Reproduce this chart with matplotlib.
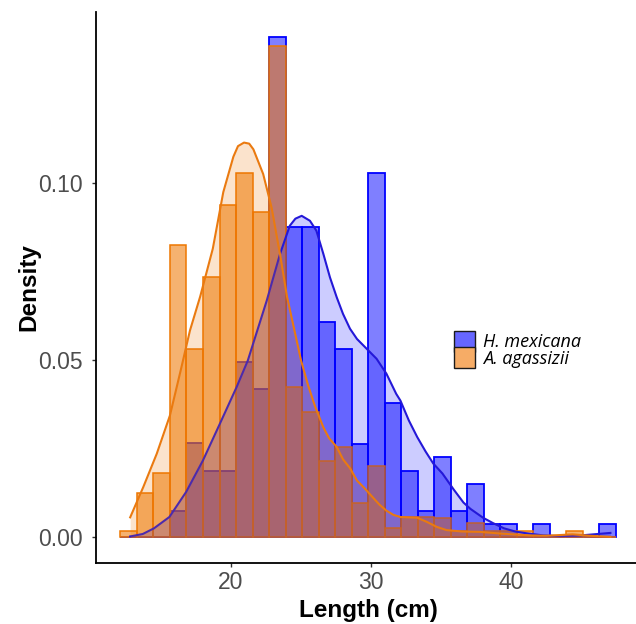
import numpy as np
import matplotlib
matplotlib.use('Agg')
import matplotlib.pyplot as plt
from matplotlib.patches import Patch

# histogram bins (Length, cm)
bin_start = 12.1
bin_width = 1.18
n_bins = 30

# density per bin
mexicana_density = [0.0, 0.0, 0.0, 0.0074, 0.0265, 0.0188, 0.0188, 0.0494, 0.0420, 0.1413,
                    0.0877, 0.0877, 0.0607, 0.0532, 0.0264, 0.1028, 0.0379, 0.0188, 0.0075, 0.0226,
                    0.0075, 0.0150, 0.0037, 0.0037, 0.0, 0.0037, 0.0, 0.0, 0.0, 0.0037]
agassizii_density = [0.0017, 0.0126, 0.0181, 0.0826, 0.0532, 0.0734, 0.0938, 0.1028, 0.0919, 0.1387,
                     0.0424, 0.0353, 0.0215, 0.0255, 0.0096, 0.0200, 0.0025, 0.0057, 0.0057, 0.0054,
                     0.0018, 0.0040, 0.0018, 0.0018, 0.0018, 0.0, 0.0, 0.0018, 0.0, 0.0]

# smoothed density curves
mexicana_kde_x = [12.8, 13.7, 14.5, 15.6, 16.8, 18.0, 19.2, 20.4, 21.2, 22.55, 23.5, 24.2, 24.6,
                  25.05, 25.64, 26.1, 26.6, 27.07, 27.55, 28.0, 28.5, 29.0, 29.7, 30.4, 31.1, 31.8,
                  32.1, 32.7, 33.3, 33.9, 34.45, 35.1, 35.9, 36.6, 37.1, 38.0, 38.7, 39.5, 40.3,
                  41.1, 42.3, 43.5, 44.7, 45.9, 47.1]
mexicana_kde_y = [0.0002, 0.0009, 0.0025, 0.0057, 0.0128, 0.0217, 0.0320, 0.0424, 0.0499, 0.0668,
                  0.0800, 0.0880, 0.0900, 0.0908, 0.0894, 0.0866, 0.0800, 0.0734, 0.0678, 0.0631,
                  0.0589, 0.0560, 0.0532, 0.0504, 0.0462, 0.0405, 0.0386, 0.0330, 0.0283, 0.0242,
                  0.0208, 0.0180, 0.0135, 0.0098, 0.0080, 0.0055, 0.0040, 0.0025, 0.0016, 0.0011,
                  0.0005, 0.0003, 0.0004, 0.0008, 0.0012]
agassizii_kde_x = [12.8, 13.74, 14.7, 15.64, 16.4, 17.07, 17.8, 18.7, 19.45, 20.17, 20.5, 20.93,
                   21.3, 21.6, 22.3, 22.9, 23.5, 24.0, 24.5, 25.0, 25.5, 26.0, 26.6, 27.0, 27.55,
                   28.0, 28.5, 29.0, 29.5, 30.0, 30.6, 31.1, 31.6, 32.1, 32.7, 33.3, 34.0, 34.7,
                   35.4, 36.5, 37.8, 39.0, 40.1, 41.3, 42.5, 43.5, 44.4, 45.6, 47.1]
agassizii_kde_y = [0.0056, 0.0142, 0.0236, 0.0344, 0.0470, 0.0584, 0.0680, 0.0815, 0.0975, 0.1075,
                   0.1105, 0.1115, 0.1112, 0.1096, 0.1026, 0.0931, 0.0800, 0.0680, 0.0590, 0.0500,
                   0.0430, 0.0370, 0.0310, 0.0280, 0.0255, 0.0220, 0.0195, 0.0160, 0.0140, 0.0118,
                   0.0092, 0.0075, 0.0063, 0.0057, 0.0056, 0.0055, 0.0043, 0.0029, 0.0020, 0.0016,
                   0.0015, 0.0011, 0.0008, 0.0005, 0.0004, 0.0006, 0.0008, 0.0004, 0.0001]

species = ['H. mexicana', 'A. agassizii']
BLUE = '#0000FF'
ORANGE = '#EE7600'

edges = bin_start + bin_width * np.arange(n_bins + 1)

fig = plt.figure(figsize=(6.36, 6.24), dpi=100)
ax = fig.add_axes([95.6 / 636, 1 - 563 / 624, (640.8 - 95.6) / 636, (563 - 12) / 624])

ax.bar(edges[:-1], mexicana_density, width=bin_width, align='edge',
       facecolor=(0, 0, 1, 0.5), edgecolor=BLUE, linewidth=1.3, zorder=2)
ax.bar(edges[:-1], agassizii_density, width=bin_width, align='edge',
       facecolor=(0.933, 0.463, 0, 0.56), edgecolor=ORANGE, linewidth=1.1, zorder=3)

ax.fill_between(mexicana_kde_x, 0, mexicana_kde_y, color=BLUE, alpha=0.2, linewidth=0, zorder=4)
ax.plot(mexicana_kde_x, mexicana_kde_y, color='#2418D8', lw=1.5, zorder=5)
ax.fill_between(agassizii_kde_x, 0, agassizii_kde_y, color=ORANGE, alpha=0.2, linewidth=0, zorder=6)
ax.plot(agassizii_kde_x, agassizii_kde_y, color='#EA7A10', lw=1.5, zorder=7)

ax.set_xlim(10.33, 49.27)
ax.set_ylim(-0.0073, 0.1484)
ax.set_xticks([20, 30, 40])
ax.set_yticks([0.0, 0.05, 0.10])
ax.set_yticklabels(['0.00', '0.05', '0.10'])

for s in ['top', 'right']:
    ax.spines[s].set_visible(False)
for s in ['left', 'bottom']:
    ax.spines[s].set_linewidth(1.3)
    ax.spines[s].set_color('black')

ax.tick_params(direction='out', length=3, width=1, color='#333333', pad=3,
               labelsize=16.5, labelcolor='#4D4D4D')
ax.tick_params(axis='y', pad=6)
for lab in ax.get_xticklabels() + ax.get_yticklabels():
    lab.set_family('Liberation Sans')

ax.set_xlabel('Length (cm)', fontsize=17.5, fontweight='bold', family='Liberation Sans', labelpad=3)
ax.set_ylabel('Density', fontsize=17.5, fontweight='bold', family='Liberation Sans')
ax.yaxis.set_label_coords(-0.102, 0.5)

handles = [Patch(facecolor='#6666FF', edgecolor='#1A1A1A', linewidth=1),
           Patch(facecolor='#F6AC66', edgecolor='#1A1A1A', linewidth=1)]
fig.legend(handles, species, loc='upper left', bbox_to_anchor=(454 / 636, 1 - 331 / 624),
           frameon=False, borderpad=0, borderaxespad=0, handlelength=1.16, handleheight=1.37,
           labelspacing=-0.23, handletextpad=0.45,
           prop={'family': 'Open Sans', 'style': 'italic', 'size': 13})

fig.savefig('out.png', dpi=100)
